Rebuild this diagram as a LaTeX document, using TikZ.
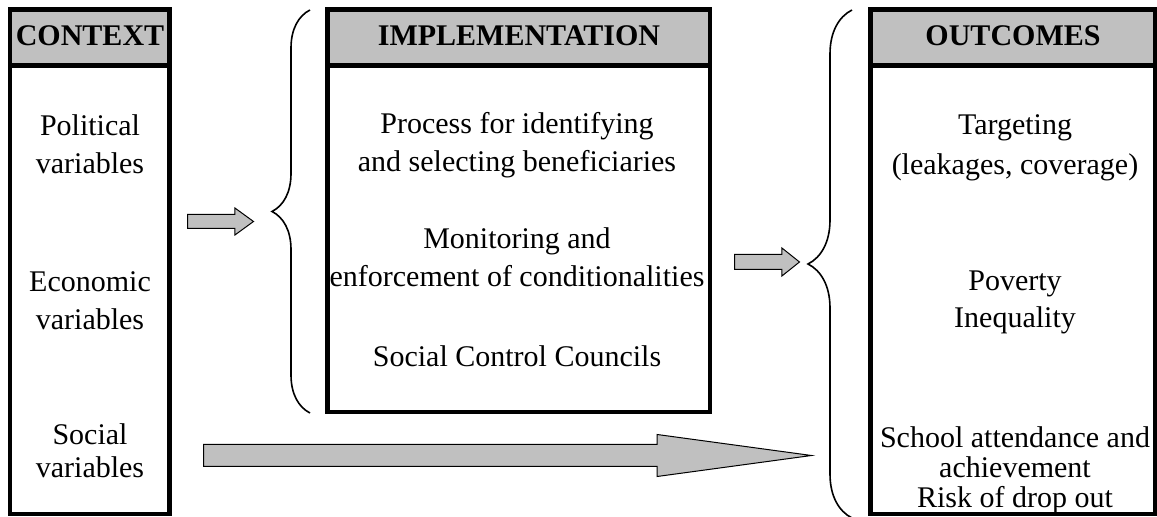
\documentclass[tikz,border=0pt]{standalone}
\usepackage{fontspec}
\setmainfont{Liberation Serif}
\usepackage{xcolor}
\usetikzlibrary{shapes.arrows,decorations.pathreplacing}

\definecolor{headgray}{RGB}{192,192,192}

\begin{document}
\begin{tikzpicture}[x=0.5pt,y=-0.5pt,
	colbox/.style={draw,line width=2.2pt},
	colhead/.style={draw,fill=headgray,line width=2.2pt},
	headtext/.style={inner sep=0pt,font=\fontsize{15}{19}\selectfont\bfseries},
	bodytext/.style={inner sep=0pt,align=center,font=\fontsize{15}{19}\selectfont},
	blockarrow/.style={single arrow,draw,fill=headgray,line width=0.5pt,inner xsep=0pt,single arrow head indent=0pt,anchor=tail},
	bigbrace/.style={decorate,decoration={brace,amplitude=#1},line width=0.8pt}]
	\useasboundingbox (0,0) rectangle (1157,517);

	% the three columns
	\draw[colbox] (10,9.5) rectangle (169.5,514);
	\filldraw[colhead] (10,9.5) rectangle (169.5,65.5);
	\draw[colbox] (327.5,9.5) rectangle (710,412);
	\filldraw[colhead] (327.5,9.5) rectangle (710,65.5);
	\draw[colbox] (870.5,9.5) rectangle (1155,514);
	\filldraw[colhead] (870.5,9.5) rectangle (1155,65.5);

	\node[headtext] (context) at (90,36) {CONTEXT};
	\node[headtext] (implem) at (519,36) {IMPLEMENTATION};
	\node[headtext] (outcomes) at (1013,36) {OUTCOMES};

	\node[bodytext] (political) at (90,144) {Political\\variables};
	\node[bodytext] (economic) at (90,301) {Economic\\variables};
	\node[bodytext,font=\fontsize{15}{16.5}\selectfont] (social) at (90,451) {Social\\variables};

	\node[bodytext] (process) at (517,145.5) {Process for identifying\\and selecting beneficiaries};
	\node[bodytext] (monitoring) at (517,257) {Monitoring and\\enforcement of conditionalities};
	\node[bodytext] (councils) at (517,356) {Social Control Councils};

	\node[bodytext,font=\fontsize{15}{20}\selectfont] (targeting) at (1015,148) {Targeting\\(leakages, coverage)};
	\node[bodytext,font=\fontsize{15}{18.5}\selectfont] (poverty) at (1015,302.5) {Poverty\\Inequality};
	\node[bodytext,font=\fontsize{15}{15}\selectfont] (school) at (1015,470) {School attendance and\\achievement\\Risk of drop out};

	% braces
	\coordinate (lbtop) at (310,10);
	\coordinate (lbbot) at (310,413);
	\coordinate (rbtop) at (852,10);
	\coordinate (rbbot) at (852,518);
	\draw[bigbrace=19pt] (lbbot) -- (lbtop);
	\draw[bigbrace=22pt] (rbbot) -- (rbtop);

	% block arrows
	\node[blockarrow,minimum height=33pt,inner ysep=3.25pt,single arrow head extend=3.25pt,single arrow tip angle=72] (ctxarrow) at (187,221.5) {};
	\node[blockarrow,minimum height=32.5pt,inner ysep=3.5pt,single arrow head extend=3.25pt,single arrow tip angle=77] (implarrow) at (734,262) {};
	\node[blockarrow,minimum height=304pt,inner ysep=5.25pt,single arrow head extend=5pt,single arrow tip angle=15.5] (socarrow) at (203,455.5) {};
\end{tikzpicture}
\end{document}
